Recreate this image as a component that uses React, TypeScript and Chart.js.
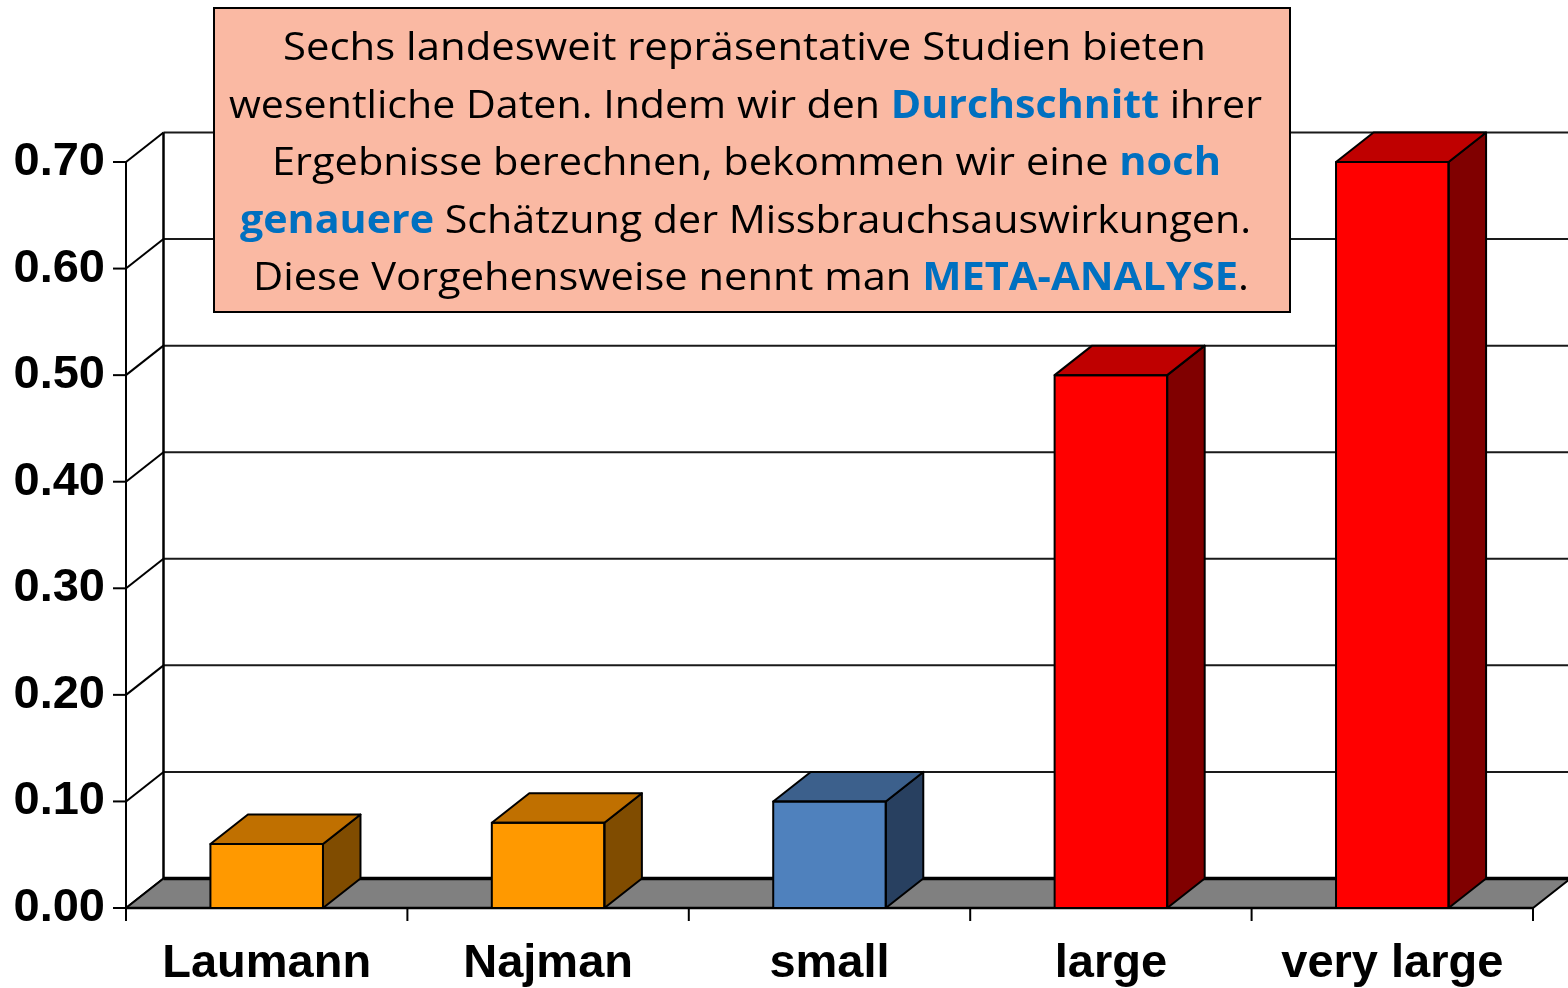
import { useEffect, useRef } from 'react';
import { Chart, registerables } from 'chart.js';

Chart.register(...registerables);

// ---- data ----
const categories = ['Laumann', 'Najman', 'small', 'large', 'very large'];
const values = [0.06, 0.08, 0.1, 0.5, 0.7];
const frontColors = ['#FF9900', '#FF9900', '#4F81BD', '#FF0000', '#FF0000'];
const topColors = ['#C07000', '#C07000', '#3C608C', '#BF0000', '#BF0000'];
const sideColors = ['#804C00', '#804C00', '#284060', '#800000', '#800000'];
const yMin = 0;
const yMax = 0.7;
const yStep = 0.1;

type Seg = { t: string; hl: boolean };
const noteLines: Seg[][] = [
  [{ t: 'Sechs landesweit repräsentative Studien bieten', hl: false }],
  [
    { t: 'wesentliche Daten. Indem wir den ', hl: false },
    { t: 'Durchschnitt', hl: true },
    { t: ' ihrer', hl: false },
  ],
  [
    { t: 'Ergebnisse berechnen, bekommen wir eine ', hl: false },
    { t: 'noch', hl: true },
  ],
  [
    { t: 'genauere', hl: true },
    { t: ' Schätzung der Missbrauchsauswirkungen.', hl: false },
  ],
  [
    { t: 'Diese Vorgehensweise nennt man ', hl: false },
    { t: 'META-ANALYSE', hl: true },
    { t: '.', hl: false },
  ],
];

// ---- layout / style constants ----
const W = 1568;
const H = 988;
const DX = 37.5;
const DY = -29.5;
const BOX = { x: 214, y: 8, w: 1076, h: 304 };
const LINE_LEFT = [283, 229, 272, 240, 253];
const LINE_WIDTH = [923, 1033, 949, 1011, 996];
const LINE_BASE = [60, 118, 175, 233, 290];
const NOTE_FONT = 39;

const poly = (ctx: CanvasRenderingContext2D, pts: number[][], fill: string | null, lw = 2) => {
  ctx.beginPath();
  ctx.moveTo(pts[0][0], pts[0][1]);
  for (let i = 1; i < pts.length; i++) ctx.lineTo(pts[i][0], pts[i][1]);
  ctx.closePath();
  if (fill) {
    ctx.fillStyle = fill;
    ctx.fill();
  }
  ctx.lineWidth = lw;
  ctx.strokeStyle = '#000';
  ctx.stroke();
};

const line = (ctx: CanvasRenderingContext2D, x1: number, y1: number, x2: number, y2: number, lw = 2, color = '#000') => {
  ctx.beginPath();
  ctx.moveTo(x1, y1);
  ctx.lineTo(x2, y2);
  ctx.lineWidth = lw;
  ctx.strokeStyle = color;
  ctx.stroke();
};

const threeD = {
  id: 'threeD',
  beforeDatasetsDraw(chart: any) {
    const { ctx, chartArea } = chart;
    const { left, right, bottom } = chartArea;
    const xs = chart.scales.x;
    const ys = chart.scales.y;
    ctx.save();
    ctx.lineJoin = 'miter';
    const tickVals = ys.ticks.map((t: any) => t.value);
    // back wall grid lines + left wall diagonals
    tickVals.forEach((v: number) => {
      const yy = ys.getPixelForValue(v);
      if (v !== 0) line(ctx, left + DX, yy + DY, W, yy + DY, 2, '#1a1a1a');
      line(ctx, left, yy, left + DX, yy + DY, 2);
    });
    // back wall vertical edge
    line(ctx, left + DX, ys.getPixelForValue(yMax) + DY, left + DX, ys.getPixelForValue(0) + DY, 2.5);
    // floor
    const b = ys.getPixelForValue(0);
    poly(ctx, [[left, b], [right, b], [right + DX, b + DY], [left + DX, b + DY]], '#808080', 2);
    line(ctx, left + DX, b + DY, right + DX, b + DY, 3.5);
    // front vertical axis + ticks
    line(ctx, left, ys.getPixelForValue(yMax), left, b + 13, 2);
    tickVals.forEach((v: number) => {
      const yy = ys.getPixelForValue(v);
      line(ctx, left - 13, yy, left, yy, 2);
    });
    // front x axis line + ticks at category boundaries
    line(ctx, left, b, right, b, 2.5);
    const step = xs.getPixelForValue(1) - xs.getPixelForValue(0);
    for (let i = 0; i <= categories.length; i++) {
      const xx = xs.getPixelForValue(0) - step / 2 + i * step;
      line(ctx, xx, b, xx, b + 13, 2);
    }
    ctx.restore();
  },
  afterDatasetsDraw(chart: any) {
    const { ctx } = chart;
    const meta = chart.getDatasetMeta(0);
    ctx.save();
    ctx.lineJoin = 'round';
    meta.data.forEach((bar: any, i: number) => {
      const { x, y, width, base } = bar.getProps(['x', 'y', 'width', 'base'], true);
      const L = x - width / 2;
      const R = x + width / 2;
      poly(ctx, [[R, y], [R + DX, y + DY], [R + DX, base + DY], [R, base]], sideColors[i], 2);
      poly(ctx, [[L, y], [L + DX, y + DY], [R + DX, y + DY], [R, y]], topColors[i], 2);
      poly(ctx, [[L, y], [R, y], [R, base], [L, base]], null, 2);
    });
    ctx.restore();
  },
  afterDraw(chart: any) {
    const { ctx } = chart;
    ctx.save();
    ctx.fillStyle = '#FAB9A3';
    ctx.fillRect(BOX.x, BOX.y, BOX.w, BOX.h);
    ctx.lineWidth = 2;
    ctx.strokeStyle = '#000';
    ctx.strokeRect(BOX.x, BOX.y, BOX.w, BOX.h);
    ctx.textBaseline = 'alphabetic';
    ctx.textAlign = 'left';
    noteLines.forEach((segs, li) => {
      let total = 0;
      const widths = segs.map((s) => {
        ctx.font = `${s.hl ? 'bold ' : ''}${NOTE_FONT}px "Open Sans"`;
        const w = ctx.measureText(s.t).width;
        total += w;
        return w;
      });
      const sc = LINE_WIDTH[li] / total;
      ctx.save();
      ctx.translate(LINE_LEFT[li], LINE_BASE[li]);
      ctx.scale(sc, 1);
      let cx = 0;
      segs.forEach((s, si) => {
        ctx.font = `${s.hl ? 'bold ' : ''}${NOTE_FONT}px "Open Sans"`;
        ctx.fillStyle = s.hl ? '#0070C0' : '#000000';
        ctx.fillText(s.t, cx, 0);
        cx += widths[si];
      });
      ctx.restore();
    });
    ctx.restore();
  },
};

export default function App() {
  const ref = useRef<HTMLCanvasElement | null>(null);
  useEffect(() => {
    if (!ref.current) return;
    const chart = new Chart(ref.current, {
      type: 'bar',
      data: {
        labels: categories,
        datasets: [
          {
            data: values,
            backgroundColor: frontColors,
            borderWidth: 0,
            barPercentage: 0.4,
            categoryPercentage: 1,
          },
        ],
      },
      options: {
        responsive: false,
        animation: false,
        events: [],
        layout: { padding: { top: 162, right: 35, left: 0, bottom: 0 } },
        plugins: { legend: { display: false }, tooltip: { enabled: false }, title: { display: false } },
        scales: {
          x: {
            grid: { display: false, drawTicks: false },
            border: { display: false },
            ticks: {
              color: '#000',
              font: { family: '"Liberation Sans", Arial, sans-serif', size: 47, weight: 'bold' },
              padding: 28,
              maxRotation: 0,
              autoSkip: false,
            },
            afterFit: (s: any) => {
              s.height = 80;
            },
          },
          y: {
            min: yMin,
            max: yMax,
            grid: { display: false, drawTicks: false },
            border: { display: false },
            ticks: {
              stepSize: yStep,
              color: '#000',
              font: { family: '"Liberation Sans", Arial, sans-serif', size: 47, weight: 'bold' },
              padding: 21,
              callback: (v: any) => Number(v).toFixed(2),
            },
            afterFit: (s: any) => {
              s.width = 126;
            },
          },
        },
      },
      plugins: [threeD],
    });
    return () => chart.destroy();
  }, []);
  return (
    <div style={{ position: 'fixed', left: 0, top: 0, width: W, height: H, background: '#fff' }}>
      <canvas ref={ref} width={W} height={H} style={{ display: 'block' }} />
    </div>
  );
}
